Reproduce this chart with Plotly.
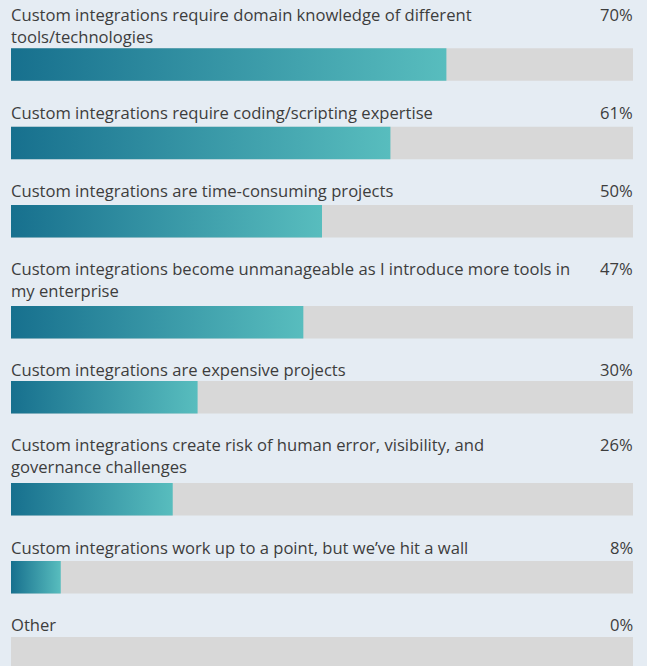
import plotly.graph_objects as go

# Survey responses: challenges with custom integrations
categories = [
    "Custom integrations require domain knowledge of different<br>tools/technologies",
    "Custom integrations require coding/scripting expertise",
    "Custom integrations are time-consuming projects",
    "Custom integrations become unmanageable as I introduce more tools in<br>my enterprise",
    "Custom integrations are expensive projects",
    "Custom integrations create risk of human error, visibility, and<br>governance challenges",
    "Custom integrations work up to a point, but we\u2019ve hit a wall",
    "Other",
]
values = [70, 61, 50, 47, 30, 26, 8, 0]

# Layout (pixel rows on a reversed y axis)
W, H = 647, 666
X0, X1 = 11, 633
LABEL_TOPS = [8.3, 106, 184.3, 262.3, 363.3, 438.3, 541, 618.3]
BAR_TOPS = [48.3, 126.7, 205, 306, 381, 483, 561, 637]
BAR_H = 32.5

BG = "#e5ecf3"
TRACK = "#d8d8d8"
DARK = "#17708e"
LIGHT = "#58bdbe"
TEXT = "#3d3d3d"
FONT = "Open Sans"
FS = 16.6

fig = go.Figure()

for cat, val, top in zip(categories, values, BAR_TOPS):
    bot = top + BAR_H
    # grey track spanning the full 0-100 scale
    fig.add_trace(go.Scatter(
        x=[0, 100, 100, 0, 0], y=[top, top, bot, bot, top],
        mode="lines", line=dict(width=0), fill="toself",
        fillcolor=TRACK, hoverinfo="skip", showlegend=False,
    ))
    if val > 0:
        fig.add_trace(go.Scatter(
            x=[0, val, val, 0, 0], y=[top, top, bot, bot, top],
            mode="lines", line=dict(width=0), fill="toself",
            fillgradient=dict(type="horizontal",
                              colorscale=[[0, DARK], [1, LIGHT]]),
            hoverinfo="skip", showlegend=False,
        ))

annotations = []
for cat, val, ltop in zip(categories, values, LABEL_TOPS):
    y = ltop - 0.3 * FS - 2.5
    annotations.append(dict(
        x=0, y=y, xref="x", yref="y", xanchor="left", yanchor="top",
        xshift=-2, text=cat, showarrow=False, align="left",
        font=dict(family=FONT, size=FS, color=TEXT),
    ))
    annotations.append(dict(
        x=100, y=y, xref="x", yref="y", xanchor="right", yanchor="top",
        xshift=2, text=f"{val}%", showarrow=False, align="right",
        font=dict(family=FONT, size=FS, color=TEXT),
    ))

fig.update_layout(
    width=W, height=H,
    margin=dict(l=0, r=0, t=0, b=0),
    paper_bgcolor=BG, plot_bgcolor=BG,
    xaxis=dict(range=[0, 100], domain=[X0 / W, X1 / W], visible=False,
               fixedrange=True),
    yaxis=dict(range=[H, 0], visible=False, fixedrange=True),
    annotations=annotations,
    showlegend=False,
)

fig.write_html("out.html", config={"displayModeBar": False})
